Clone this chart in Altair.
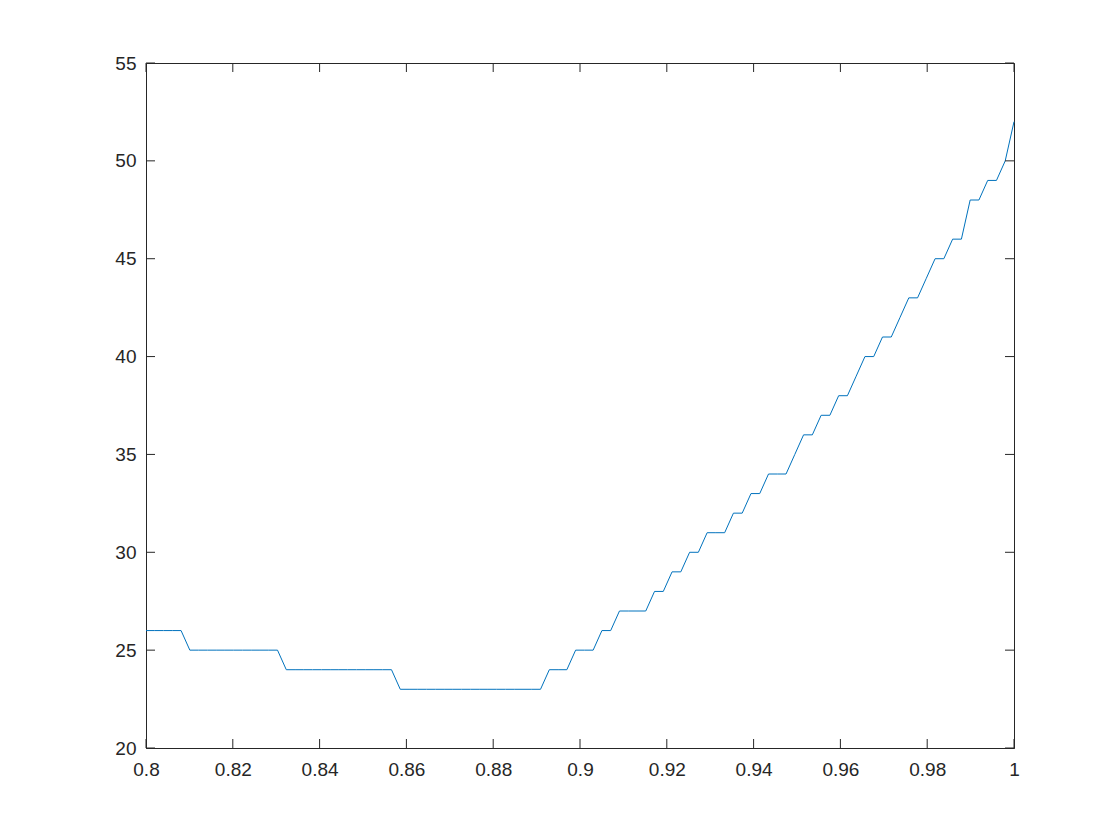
import altair as alt
import numpy as np
import pandas as pd

# sample grid (100 points from 0.8 to 1.0)
x_vals = np.linspace(0.8, 1.0, 100)

# values, one per sample
y_vals = (
    [26] * 5 + [25] * 11 + [24] * 13 + [23] * 17 +
    [24] * 3 + [25] * 3 + [26] * 2 + [27] * 4 +
    [28] * 2 + [29] * 2 + [30] * 2 + [31] * 3 + [32] * 2 + [33] * 2 +
    [34] * 3 + [35] + [36] * 2 + [37] * 2 + [38] * 2 + [39] +
    [40] * 2 + [41] * 2 + [42] + [43] * 2 + [44] + [45] * 2 +
    [46] * 2 + [48] * 2 + [49] * 2 + [50] + [52]
)

x_ticks = [0.8, 0.82, 0.84, 0.86, 0.88, 0.9, 0.92, 0.94, 0.96, 0.98, 1.0]
y_ticks = [20, 25, 30, 35, 40, 45, 50, 55]

W, H = 868, 685
AX = "#262626"
FONT = "Liberation Sans"

df = pd.DataFrame({"x": x_vals, "y": y_vals})
dfx = pd.DataFrame({"x": x_ticks})
dfy = pd.DataFrame({"y": y_ticks})

xenc = alt.X(
    "x:Q",
    scale=alt.Scale(domain=[0.8, 1.0], nice=False, zero=False),
    axis=alt.Axis(values=x_ticks, format="~g", title="", grid=False, ticks=False,
                  labelPadding=12, labelFont=FONT, labelFontSize=19,
                  labelColor=AX, domainColor=AX, labelFlush=False),
)
yenc = alt.Y(
    "y:Q",
    scale=alt.Scale(domain=[20, 55], nice=False, zero=False),
    axis=alt.Axis(values=y_ticks, format="d", title="", grid=False, ticks=False,
                  labelPadding=10, labelFont=FONT, labelFontSize=19,
                  labelColor=AX, domainColor=AX, labelFlush=False),
)

line = alt.Chart(df).mark_line(color="#0072BD", strokeWidth=1).encode(x=xenc, y=yenc)

TL = 9
bottom = alt.Chart(dfx).mark_rule(color=AX, strokeWidth=1).encode(
    x=xenc, y=alt.value(H), y2=alt.value(H - TL))
top = alt.Chart(dfx).mark_rule(color=AX, strokeWidth=1).encode(
    x=xenc, y=alt.value(0), y2=alt.value(TL))
left = alt.Chart(dfy).mark_rule(color=AX, strokeWidth=1).encode(
    y=yenc, x=alt.value(0), x2=alt.value(TL))
right = alt.Chart(dfy).mark_rule(color=AX, strokeWidth=1).encode(
    y=yenc, x=alt.value(W), x2=alt.value(W - TL))

chart = alt.layer(line, bottom, top, left, right).properties(
    width=W, height=H,
    autosize=alt.AutoSizeParams(type="none"),
    padding={"left": 138, "top": 55, "right": 98, "bottom": 80},
    background="white",
).configure_view(stroke=AX, strokeWidth=1)

chart.save("out.html", embed_options={"renderer": "svg", "actions": False})
